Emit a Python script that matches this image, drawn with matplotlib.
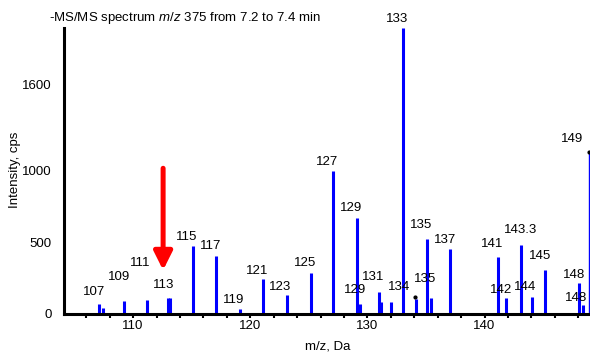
import matplotlib
matplotlib.use("Agg")
import matplotlib.pyplot as plt
from matplotlib.ticker import MultipleLocator

plt.rcParams['font.family'] = ['Liberation Sans', 'DejaVu Sans']
plt.rcParams['mathtext.fontset'] = 'custom'
plt.rcParams['mathtext.rm'] = 'Liberation Sans'
plt.rcParams['mathtext.it'] = 'Liberation Sans:italic'

# Peak data (m/z, intensity in cps)
peak_mz = [107.1, 107.4, 109.2, 111.2, 113.0, 113.15, 115.08, 117.1, 119.1,
           121.1, 123.1, 125.15, 127.1, 129.1, 129.4, 130.95, 131.17, 132.05,
           133.07, 134.15, 135.06, 135.43, 137.08, 141.14, 141.86, 143.14,
           144.04, 145.12, 148.1, 148.36]
peak_int = [70, 40, 92, 97, 108, 108, 472, 405, 37,
            241, 132, 282, 993, 671, 70, 153, 81, 83,
            1990, 104, 519, 109, 449, 394, 109, 481,
            120, 308, 215, 65]
# Thin peak at right edge
edge_mz = [148.93]
edge_int = [1125]

# Peak labels
label_text = ['107', '109', '111', '113', '115', '117', '119', '121', '123',
              '125', '127', '129', '129', '131', '134', '133', '135', '135',
              '137', '141', '142', '143.3', '144', '145', '148', '148', '149']
label_mz = [106.68, 108.81, 110.60, 112.64, 114.60, 116.65, 118.61, 120.57, 122.53,
            124.66, 126.54, 128.58, 128.93, 130.46, 132.68, 132.51, 134.55, 134.89,
            136.60, 140.61, 141.37, 143.08, 143.50, 144.70, 147.60, 147.85, 147.51]
label_int = [153, 257, 354, 201, 535, 472, 97, 299, 188,
             354, 1056, 736, 167, 257, 188, 2056, 618, 243,
             514, 486, 167, 583, 188, 403, 271, 111, 1215]

# Highlight arrow (m/z, from intensity, to intensity)
arrow_mz = 112.56
arrow_from = 1014
arrow_to = 305

x_ticks = [110, 120, 130, 140]
y_ticks = [0, 500, 1000, 1600]

fig = plt.figure(figsize=(5.9, 3.54), dpi=100)
ax = fig.add_axes([64/590, 40/354, 526/590, 286/354])

ax.vlines(peak_mz, 0, peak_int, colors='#0000FF', linewidth=2.2)
ax.vlines(edge_mz, 0, edge_int, colors='#0000FF', linewidth=1.0)
ax.plot(edge_mz, edge_int, marker='o', color='black', markersize=2, clip_on=False)
ax.plot([134.02], [120], marker='o', color='black', markersize=2)

for t, x, y in zip(label_text, label_mz, label_int):
    ax.text(x, y, t, ha='center', va='center', fontsize=9.5, clip_on=False)

ax.annotate('', xy=(arrow_mz, arrow_to), xytext=(arrow_mz, arrow_from),
            arrowprops=dict(arrowstyle='-|>,head_width=0.55,head_length=1.1',
                            color='#FF0000', lw=3.6, shrinkA=0, shrinkB=0))

ax.set_xlim(104.1, 149.0)
ax.set_ylim(0, 1990)
ax.set_xticks(x_ticks)
ax.set_yticks(y_ticks)
ax.xaxis.set_minor_locator(MultipleLocator(2))
ax.tick_params(axis='x', which='major', length=3, width=1.5, labelsize=9.5, pad=1)
ax.tick_params(axis='x', which='minor', length=3, width=1.5)
ax.tick_params(axis='y', length=0, labelsize=9.5, pad=9)

for s in ['top', 'right']:
    ax.spines[s].set_visible(False)
ax.spines['left'].set_linewidth(2.2)
ax.spines['bottom'].set_linewidth(2.2)

ax.set_xlabel('m/z, Da', fontsize=9.5)
ax.xaxis.set_label_coords(0.502, -0.115)
ax.xaxis.label.set_va('center')
ax.set_ylabel('Intensity, cps', fontsize=9.5)
ax.yaxis.set_label_coords(-0.093, 0.503)
ax.yaxis.label.set_va('center')

fig.text(49/590, 1 - 18/354, '-MS/MS spectrum $\\mathit{m/z}$ 375 from 7.2 to 7.4 min',
         ha='left', va='center', fontsize=9.5)

fig.savefig('out.png', dpi=100)
